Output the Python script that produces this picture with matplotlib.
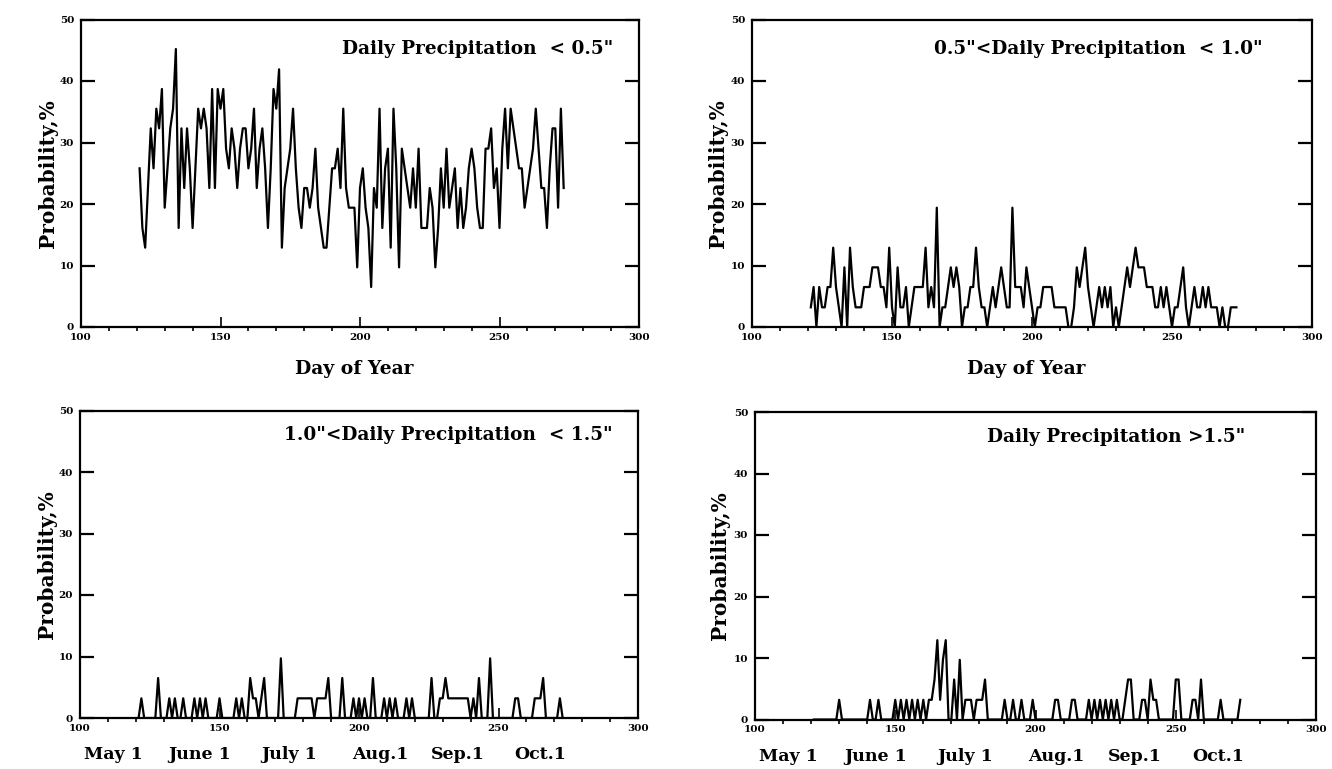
import numpy as np
import matplotlib
matplotlib.use("Agg")
import matplotlib.pyplot as plt
import matplotlib.transforms as mtransforms

plt.rcParams['font.family'] = ['DejaVu Serif']
plt.rcParams['font.weight'] = 'bold'

# day of year, May 1 .. Sep 30
days = np.arange(121, 274)

# probability (%) of daily precipitation < 0.5"
p_lt05 = [
    25.8, 16.1, 12.9, 22.6, 32.3, 25.8, 35.5, 32.3, 38.7, 19.4,
    25.8, 32.3, 35.5, 45.2, 16.1, 32.3, 22.6, 32.3, 25.8, 16.1,
    25.8, 35.5, 32.3, 35.5, 32.3, 22.6, 38.7, 22.6, 38.7, 35.5,
    38.7, 29.0, 25.8, 32.3, 29.0, 22.6, 29.0, 32.3, 32.3, 25.8,
    29.0, 35.5, 22.6, 29.0, 32.3, 25.8, 16.1, 25.8, 38.7, 35.5,
    41.9, 12.9, 22.6, 25.8, 29.0, 35.5, 25.8, 19.4, 16.1, 22.6,
    22.6, 19.4, 22.6, 29.0, 19.4, 16.1, 12.9, 12.9, 19.4, 25.8,
    25.8, 29.0, 22.6, 35.5, 22.6, 19.4, 19.4, 19.4, 9.7, 22.6,
    25.8, 19.4, 16.1, 6.5, 22.6, 19.4, 35.5, 16.1, 25.8, 29.0,
    12.9, 35.5, 25.8, 9.7, 29.0, 25.8, 22.6, 19.4, 25.8, 19.4,
    29.0, 16.1, 16.1,
    16.1, 22.6, 19.4, 9.7, 16.1, 25.8, 19.4, 29.0, 19.4, 22.6,
    25.8, 16.1, 22.6, 16.1, 19.4, 25.8, 29.0, 25.8, 19.4, 16.1,
    16.1, 29.0, 29.0, 32.3, 22.6, 25.8, 16.1, 29.0, 35.5, 25.8,
    35.5, 32.3, 29.0, 25.8, 25.8, 19.4, 22.6, 25.8, 29.0, 35.5,
    29.0, 22.6, 22.6, 16.1, 25.8, 32.3, 32.3, 19.4, 35.5, 22.6,
]

# 0.5" < daily precipitation < 1.0"
p_05_10 = [
    3.2, 6.5, 0, 6.5, 3.2, 3.2, 6.5, 6.5, 12.9, 6.5,
    3.2, 0, 9.7, 0, 12.9, 6.5, 3.2, 3.2, 3.2, 6.5,
    6.5, 6.5, 9.7, 9.7, 9.7, 6.5, 6.5, 3.2, 12.9, 3.2,
    0, 9.7, 3.2, 3.2, 6.5, 0, 3.2, 6.5, 6.5, 6.5,
    6.5, 12.9, 3.2, 6.5, 3.2, 19.4, 0, 3.2, 3.2, 6.5,
    9.7, 6.5, 9.7, 6.5, 0, 3.2, 3.2, 6.5, 6.5, 12.9,
    6.5, 3.2, 3.2, 0, 3.2, 6.5, 3.2, 6.5, 9.7, 6.5,
    3.2, 3.2, 19.4, 6.5, 6.5, 6.5, 3.2, 9.7, 6.5, 3.2,
    0, 3.2, 3.2, 6.5, 6.5, 6.5, 6.5, 3.2, 3.2, 3.2,
    3.2, 3.2, 0, 0, 3.2, 9.7, 6.5, 9.7, 12.9, 6.5,
    3.2, 0, 3.2, 6.5, 3.2, 6.5, 3.2, 6.5, 0, 3.2,
    0, 3.2, 6.5, 9.7, 6.5, 9.7, 12.9, 9.7, 9.7, 9.7,
    6.5, 6.5, 6.5, 3.2, 3.2, 6.5, 3.2, 6.5, 3.2, 0,
    3.2, 3.2, 6.5, 9.7, 3.2, 0, 3.2, 6.5, 3.2, 3.2,
    6.5, 3.2, 6.5, 3.2, 3.2, 3.2, 0, 3.2, 0, 0,
    3.2, 3.2, 3.2,
]

# 1.0" < daily precipitation < 1.5"  (days with non-zero probability)
d_10_15 = [122, 128, 132, 134, 137, 141, 143, 145, 150, 156, 158, 161, 162,
           163, 165, 166, 172, 178, 179, 180, 181, 182, 183, 185, 186, 187,
           188, 189, 194, 198, 200, 202, 205, 209, 211, 213, 217, 219, 226,
           229, 230, 231, 232, 233, 234, 235, 236, 237, 238, 239, 241, 243,
           247, 256, 257, 263, 264, 265, 266, 272]
v_10_15 = [3.2, 6.5, 3.2, 3.2, 3.2, 3.2, 3.2, 3.2, 3.2, 3.2, 3.2, 6.5, 3.2,
           3.2, 3.2, 6.5, 9.7, 3.2, 3.2, 3.2, 3.2, 3.2, 3.2, 3.2, 3.2, 3.2,
           3.2, 6.5, 6.5, 3.2, 3.2, 3.2, 6.5, 3.2, 3.2, 3.2, 3.2, 3.2, 6.5,
           3.2, 3.2, 6.5, 3.2, 3.2, 3.2, 3.2, 3.2, 3.2, 3.2, 3.2, 3.2, 6.5,
           9.7, 3.2, 3.2, 3.2, 3.2, 3.2, 6.5, 3.2]

# daily precipitation > 1.5"  (days with non-zero probability)
d_gt15 = [130, 141, 144, 150, 152, 154, 156, 158, 160, 162, 163, 164, 165,
          166, 167, 168, 171, 173, 175, 176, 177, 179, 180, 181, 182, 189,
          192, 195, 199, 207, 208, 213, 214, 219, 221, 223, 225, 227, 229,
          232, 233, 234, 238, 239, 241, 242, 243, 250, 251, 256, 257, 259,
          266, 273]
v_gt15 = [3.2, 3.2, 3.2, 3.2, 3.2, 3.2, 3.2, 3.2, 3.2, 3.2, 3.2, 6.5, 12.9,
          3.2, 9.7, 12.9, 6.5, 9.7, 3.2, 3.2, 3.2, 3.2, 3.2, 3.2, 6.5, 3.2,
          3.2, 3.2, 3.2, 3.2, 3.2, 3.2, 3.2, 3.2, 3.2, 3.2, 3.2, 3.2, 3.2,
          3.2, 6.5, 6.5, 3.2, 3.2, 6.5, 3.2, 3.2, 6.5, 6.5, 3.2, 3.2, 6.5,
          3.2, 3.2]

titles = ['Daily Precipitation  < 0.5"',
          '0.5"<Daily Precipitation  < 1.0"',
          '1.0"<Daily Precipitation  < 1.5"',
          'Daily Precipitation >1.5"']
month_names = ['May 1', 'June 1', 'July 1', 'Aug.1', 'Sep.1', 'Oct.1']
month_pos = [112, 143, 175, 207.5, 235.5, 265]


def fill_days(d, v):
    out = np.zeros(len(days))
    for dd, vv in zip(d, v):
        out[dd - days[0]] = vv
    return out


series = [np.array(p_lt05), np.array(p_05_10),
          fill_days(d_10_15, v_10_15), fill_days(d_gt15, v_gt15)]

W, H = 1332, 769
fig = plt.figure(figsize=(W / 100, H / 100), dpi=100)

# axes boxes in pixels: left, top, right, bottom
boxes = [(81, 19.5, 639, 327), (752, 19.5, 1312, 327),
         (80, 410.5, 638, 718), (755, 412, 1316, 719.5)]
title_pos = [(0.953, 0.905), (0.911, 0.905), (0.955, 0.92), (0.873, 0.92)]
ylabel_x = [-0.042, -0.043, -0.042, -0.045]

for i, (l, t, r, b) in enumerate(boxes):
    ax = fig.add_axes([l / W, 1 - b / H, (r - l) / W, (b - t) / H])
    ax.plot(days, series[i], color='black', lw=1.6)
    ax.set_xlim(100, 300)
    ax.set_ylim(0, 50)
    for s in ax.spines.values():
        s.set_linewidth(1.6)

    ax.set_xticks([100, 150, 200, 250, 300])
    ax.set_xticks(np.arange(110, 300, 10), minor=True)
    ax.set_yticks([0, 10, 20, 30, 40, 50])
    ax.tick_params(axis='x', which='major', direction='in', length=7,
                   width=1.2, labelsize=7.5, pad=4)
    ax.tick_params(axis='x', which='minor', direction='out', length=3,
                   width=1.2)
    ax.tick_params(axis='y', which='major', direction='in', length=10,
                   width=1.6, labelsize=7.5, right=True, pad=5)
    for lab in ax.get_xticklabels() + ax.get_yticklabels():
        lab.set_fontweight('bold')

    ax.set_ylabel('Probability,%', fontsize=14.5, fontweight='bold')
    ax.yaxis.set_label_coords(ylabel_x[i], 0.5)

    ax.text(title_pos[i][0], title_pos[i][1], titles[i], transform=ax.transAxes,
            ha='right', va='center', fontsize=13.3, fontweight='bold')

    if i < 2:
        ax.set_xlabel('Day of Year', fontsize=13.5, fontweight='bold')
        ax.xaxis.set_label_coords(0.49, -0.107)
    else:
        trans = mtransforms.blended_transform_factory(ax.transData, ax.transAxes)
        for name, x in zip(month_names, month_pos):
            ax.text(x, -0.12, name, transform=trans, ha='center', va='center',
                    fontsize=12.5, fontweight='bold')

fig.savefig('out.png', dpi=100)
